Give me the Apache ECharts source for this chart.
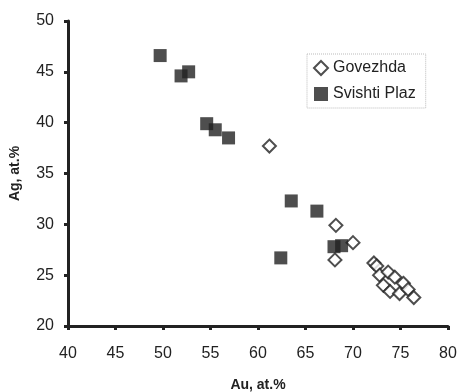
<!DOCTYPE html>
<html>
<head>
<meta charset="utf-8">
<script src="https://cdn.jsdelivr.net/npm/echarts@6/dist/echarts.min.js"></script>
<style>
  html, body { margin: 0; padding: 0; background: #fff; }
  #chart { width: 459px; height: 392px; }
</style>
</head>
<body>
<div id="chart"></div>
<script>
// Govezhda (open diamonds): [Au, Ag]
const govezhda = [
  [61.2, 37.7], [68.2, 29.9], [70.0, 28.2], [68.1, 26.5],
  [72.2, 26.2], [72.5, 25.9], [72.8, 25.0], [73.7, 25.3],
  [74.4, 24.8], [73.2, 24.0], [75.3, 24.2], [73.9, 23.4],
  [74.9, 23.2], [75.8, 23.6], [76.4, 22.8]
];
// Svishti Plaz (filled squares)
const svishtiPlaz = [
  [49.7, 46.6], [51.9, 44.6], [52.7, 45.0], [54.6, 39.9],
  [55.5, 39.3], [56.9, 38.5], [63.5, 32.3], [66.2, 31.3],
  [68.0, 27.8], [68.8, 27.9], [62.4, 26.7]
];
const xTicks = [40, 45, 50, 55, 60, 65, 70, 75, 80];
const yTicks = [20, 25, 30, 35, 40, 45, 50];

const chart = echarts.init(document.getElementById('chart'));
const font = 'Liberation Sans, Arial, sans-serif';

const axisCommon = {
  axisLine: { show: true, lineStyle: { color: '#222', width: 3 } },
  axisTick: { show: true, length: 4, lineStyle: { color: '#222', width: 3 } },
  splitLine: { show: false }
};

chart.setOption({
  animation: false,
  backgroundColor: '#fff',
  grid: { left: 68, right: 11, top: 21, bottom: 66, outerBoundsMode: 'none', containLabel: false },
  legend: {
    orient: 'vertical',
    left: 307,
    top: 54,
    itemWidth: 14,
    itemHeight: 14,
    itemGap: 10,
    padding: [6, 10, 6, 6],
    borderColor: '#bbb',
    borderWidth: 1,
    borderType: 'dotted',
    textStyle: { color: '#222', fontSize: 16, fontFamily: font },
    data: ['Govezhda', 'Svishti Plaz']
  },
  xAxis: Object.assign({}, axisCommon, {
    type: 'value',
    min: xTicks[0],
    max: xTicks[xTicks.length - 1],
    interval: 5,
    axisLabel: { color: '#222', fontSize: 16, fontFamily: font, margin: 20 },
    name: 'Au, at.%',
    nameLocation: 'middle',
    nameGap: 52,
    nameTextStyle: { color: '#222', fontSize: 14, fontWeight: 'bold', fontFamily: font }
  }),
  yAxis: Object.assign({}, axisCommon, {
    type: 'value',
    min: yTicks[0],
    max: yTicks[yTicks.length - 1],
    interval: 5,
    axisLabel: { color: '#222', fontSize: 16, fontFamily: font, margin: 14 },
    name: 'Ag, at.%',
    nameLocation: 'middle',
    nameGap: 46,
    nameTextStyle: { color: '#222', fontSize: 14, fontWeight: 'bold', fontFamily: font }
  }),
  series: [
    {
      name: 'Govezhda',
      type: 'scatter',
      symbol: 'diamond',
      symbolSize: 13,
      itemStyle: { color: '#fff', borderColor: '#222', borderWidth: 2 },
      data: govezhda
    },
    {
      name: 'Svishti Plaz',
      type: 'scatter',
      symbol: 'rect',
      symbolSize: 13,
      itemStyle: { color: '#222' },
      data: svishtiPlaz
    }
  ]
});
</script>
</body>
</html>
